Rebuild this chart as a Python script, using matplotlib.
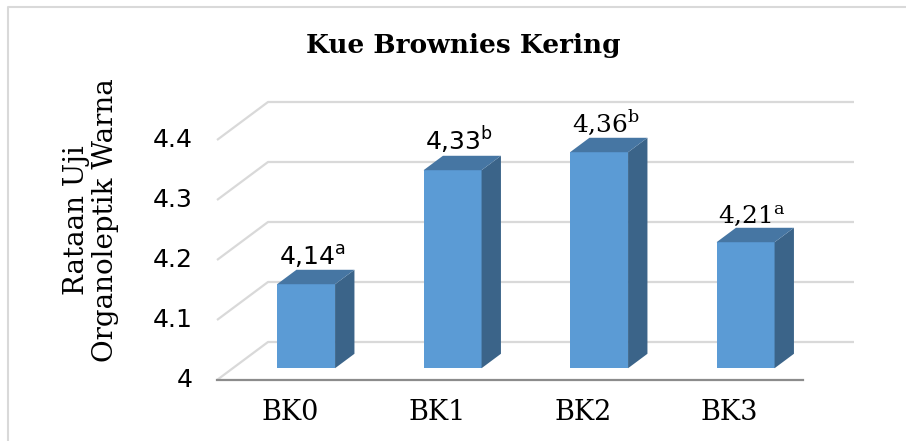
import matplotlib
matplotlib.use("Agg")
import matplotlib.pyplot as plt
from matplotlib.patches import Polygon
from matplotlib.lines import Line2D
import numpy as np

# ---- data ----
categories = ["BK0", "BK1", "BK2", "BK3"]
values = [4.14, 4.33, 4.36, 4.21]
letters = ["a", "b", "b", "a"]
label_texts = ["4,14", "4,33", "4,36", "4,21"]
yticks = [4.0, 4.1, 4.2, 4.3, 4.4]
ytick_labels = ["4", "4.1", "4.2", "4.3", "4.4"]
title = "Kue Brownies Kering"
ylabel = "Rataan Uji\nOrganoleptik Warna"

# ---- geometry (pixel calibration of the oblique 3D look) ----
W, H = 906, 441
PX_CAT = 146.5      # px per category
X0_PX = 290.25      # px of category 0 centre on front plane
PX_VAL = 600.0      # px per value unit
Y4_PX = 380.0       # px (from top) of value 4 on front plane
DX = 51 / PX_CAT    # full floor depth offset in x units
DV = 38 / PX_VAL    # full floor depth offset in value units
D0, D1 = 0.31, 0.69 # bar front / back depth fraction
BW = 0.396          # bar width (category units)
BASE = 4.0

front_c = "#5B9BD5"
side_c = "#3B6489"
top_c = "#4676A3"
grid_c = "#D9D9D9"
axis_c = "#8C8C8C"

fig = plt.figure(figsize=(W / 100, H / 100), dpi=100)
ax = fig.add_axes([0, 0, 1, 1])
ax.set_xlim((0 - X0_PX) / PX_CAT, (W - X0_PX) / PX_CAT)
ax.set_ylim(BASE + (Y4_PX - H) / PX_VAL, BASE + Y4_PX / PX_VAL)
ax.axis("off")

# gridlines: left wall diagonal + back wall
xl, xr = -0.5, len(categories) - 0.5
for t in yticks:
    ax.plot([xl, xl + DX, xr + DX], [t, t + DV, t + DV], color=grid_c, lw=1.6,
            zorder=1, solid_capstyle="butt")
# front floor edge (axis line)
ax.plot([xl, xr], [BASE, BASE], color=axis_c, lw=1.6, zorder=1)

# bars
x = np.arange(len(categories))
fx = x + D0 * DX
ax.bar(fx, np.array(values) - BASE, bottom=BASE + D0 * DV, width=BW,
       color=front_c, zorder=3, linewidth=0)
dd = D1 - D0
for xi, v in zip(fx, values):
    l, r = xi - BW / 2, xi + BW / 2
    b0 = BASE + D0 * DV
    t0 = v + D0 * DV
    side = Polygon([(r, b0), (r + dd * DX, b0 + dd * DV), (r + dd * DX, t0 + dd * DV), (r, t0)],
                   closed=True, facecolor=side_c, edgecolor="none", zorder=3)
    top = Polygon([(l, t0), (r, t0), (r + dd * DX, t0 + dd * DV), (l + dd * DX, t0 + dd * DV)],
                  closed=True, facecolor=top_c, edgecolor="none", zorder=3)
    ax.add_patch(side)
    ax.add_patch(top)

# data labels
fams = ["DejaVu Sans", "DejaVu Sans", "DejaVu Serif", "DejaVu Serif"]
for xi, v, s, lt, fam in zip(x, values, label_texts, letters, fams):
    ax.text(xi + 0.5 * DX - 0.02, v + D1 * DV + 5 / PX_VAL,
            s + r"$^{\mathregular{" + lt + "}}$",
            ha="center", va="baseline", fontsize=18, family=fam, color="#000000", zorder=5)

# y tick labels
for t, s in zip(yticks, ytick_labels):
    ax.text(xl - 24 / PX_CAT, t, s, ha="right", va="center", fontsize=18,
            family="DejaVu Sans", color="#000000")

# x tick labels
for xi, s in zip(x, categories):
    ax.text(xi, BASE - 40 / PX_VAL, s, ha="center", va="baseline", fontsize=19.5,
            family="DejaVu Serif", color="#000000")

# y label
fig.text(91 / W, 1 - 220 / H, ylabel, rotation=90, ha="center", va="center",
         multialignment="center", fontsize=20, family="DejaVu Serif", linespacing=1.12)

# title
fig.text(463 / W, 1 - 53 / H, title, ha="center", va="baseline", fontsize=19,
         family="DejaVu Serif", weight="bold")

# figure border (top & left visible)
fig.add_artist(Line2D([8 / W, 8 / W, 1.0], [0.0, 1 - 7 / H, 1 - 7 / H],
                      transform=fig.transFigure, color=grid_c, lw=1.5))

fig.savefig("out.png", dpi=100)
